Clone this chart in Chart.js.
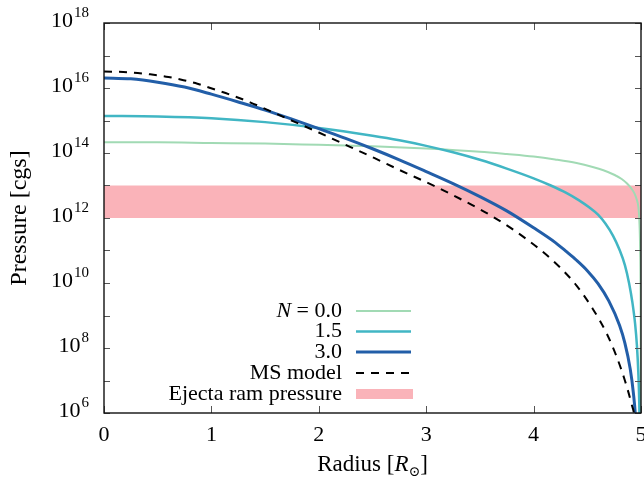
<!DOCTYPE html>
<html>
<head>
<meta charset="utf-8">
<script src="https://cdn.jsdelivr.net/npm/chart.js@4.4.0/dist/chart.umd.min.js"></script>
<style>
    html, body { margin: 0; padding: 0; background: #fff; }
</style>
</head>
<body>
<canvas id="pressureChart" width="644" height="478"></canvas>
<script>
// radius [R_sun] and pressure [cgs], one pair of arrays per curve
const rN0 = [0, 0.5, 1, 1.5, 2, 2.5, 3, 3.5, 3.75, 4, 4.2, 4.4, 4.55, 4.65, 4.75, 4.82, 4.87, 4.91, 4.94, 4.96,
    4.975, 4.985, 4.992, 4.997, 5.0];
const pN0 = [2.14e14, 2.14e14, 2.04e14, 1.95e14, 1.78e14, 1.62e14, 1.38e14, 1.1e14, 9.33e13, 7.76e13, 6.31e13,
    4.9e13, 3.72e13, 2.95e13, 2.14e13, 1.58e13, 1.15e13, 8.13e12, 5.62e12, 3.72e12, 2.24e12, 7.94e11, 1e11,
    1e9, 1e3];

const rN15 = [0, 0.5, 1, 1.5, 2, 2.5, 2.75, 3, 3.25, 3.5, 3.75, 4, 4.16, 4.3, 4.42, 4.52, 4.6, 4.67, 4.74, 4.8,
    4.85, 4.89, 4.92, 4.945, 4.962, 4.975, 4.984, 4.99, 4.995];
const pN15 = [1.38e15, 1.32e15, 1.17e15, 8.91e14, 5.89e14, 3.39e14, 2.45e14, 1.66e14, 1.05e14, 6.17e13, 3.31e13,
    1.66e13, 1.0e13, 6.03e12, 3.55e12, 2.09e12, 1.26e12, 6.61e11, 2.82e11, 1.05e11, 3.55e10, 9.55e9, 2.51e9,
    5.62e8, 1.2e8, 1.78e7, 2.0e6, 1e5, 1e3];

const rN3 = [0, 0.25, 0.5, 0.75, 1, 1.25, 1.5, 1.75, 2, 2.25, 2.5, 2.75, 3, 3.25, 3.5, 3.75, 4, 4.2, 4.3, 4.4,
    4.5, 4.6, 4.7, 4.8, 4.85, 4.9, 4.93, 4.95, 4.97];
const pN3 = [2.04e16, 1.91e16, 1.51e16, 1.07e16, 6.46e15, 3.72e15, 2.09e15, 1.1e15, 5.62e14, 2.82e14, 1.35e14,
    6.17e13, 2.69e13, 1.15e13, 4.57e12, 1.66e12, 5.01e11, 1.78e11, 9.55e10, 5.01e10, 2.4e10, 9.55e9, 2.82e9,
    5.01e8, 1.41e8, 2.24e7, 3.89e6, 6.46e5, 2.0e4];

const rMS = [0, 0.25, 0.43, 0.6, 0.74, 0.87, 0.99, 1.17, 1.36, 1.67, 2, 2.29, 2.52, 2.75, 3.08, 3.31, 3.5, 3.62,
    3.81, 4.06, 4.24, 4.4, 4.55, 4.68, 4.77, 4.85, 4.91, 4.94, 4.97];
const pMS = [3.24e16, 3.02e16, 2.63e16, 2.19e16, 1.74e16, 1.35e16, 1.0e16, 6.31e15, 3.63e15, 1.29e15, 4.27e14,
    1.55e14, 6.92e13, 3.02e13, 9.55e12, 3.98e12, 1.86e12, 1.1e12, 4.37e11, 1.07e11, 3.16e10, 8.32e9, 1.62e9,
    2.82e8, 5.75e7, 1.0e7, 2.0e6, 7.08e5, 3.16e4];

// ejecta ram pressure band
const bandX = [0, 5];
const bandLow = [1e12, 1e12];
const bandHigh = [1e13, 1e13];

const xTickLabels = ['0', '1', '2', '3', '4', '5'];
const yTickPowers = [6, 7, 8, 9, 10, 11, 12, 13, 14, 15, 16, 17, 18];
const yLabelPowers = [6, 8, 10, 12, 14, 16, 18];
const legendLabels = ['N = 0.0', '1.5', '3.0', 'MS model', 'Ejecta ram pressure'];

const serif = '"Liberation Serif", "DejaVu Serif", serif';

function toPoints(xs, ys) {
    return xs.map((x, i) => ({ x: x, y: ys[i] }));
}

function curve(label, xs, ys, color, width, order) {
    return {
        label: label,
        data: toPoints(xs, ys),
        borderColor: color,
        borderWidth: width,
        pointRadius: 0,
        fill: false,
        cubicInterpolationMode: 'monotone',
        order: order
    };
}

// frame, inward ticks, tick labels, axis titles and the key
const decorations = {
    id: 'decorations',
    afterDatasetsDraw(chart) {
        const ctx = chart.ctx, a = chart.chartArea;
        const xs = chart.scales.x, ys = chart.scales.y;
        ctx.save();
        ctx.strokeStyle = '#555';
        ctx.lineWidth = 1;
        ctx.beginPath();
        xs.ticks.forEach(t => {
            const px = Math.round(xs.getPixelForValue(t.value)) + 0.5;
            ctx.moveTo(px, a.bottom); ctx.lineTo(px, a.bottom - 7);
            ctx.moveTo(px, a.top); ctx.lineTo(px, a.top + 7);
        });
        ys.ticks.forEach(t => {
            const py = Math.round(ys.getPixelForValue(t.value)) + 0.5;
            ctx.moveTo(a.left, py); ctx.lineTo(a.left + 6, py);
            ctx.moveTo(a.right, py); ctx.lineTo(a.right - 6, py);
        });
        ctx.stroke();
        ctx.strokeStyle = '#111';
        ctx.lineWidth = 1.4;
        ctx.strokeRect(a.left, a.top, a.right - a.left, a.bottom - a.top);
        ctx.restore();
    },
    afterDraw(chart) {
        const ctx = chart.ctx, a = chart.chartArea;
        const xs = chart.scales.x, ys = chart.scales.y;
        ctx.save();
        ctx.fillStyle = '#000';

        // x tick labels
        ctx.font = '22px ' + serif;
        ctx.textAlign = 'center';
        ctx.textBaseline = 'alphabetic';
        xs.ticks.forEach((t, i) => {
            ctx.fillText(xTickLabels[i], xs.getPixelForValue(t.value), a.bottom + 28);
        });

        // y tick labels as 10 with a raised exponent
        yLabelPowers.forEach(p => {
            const py = ys.getPixelForValue(Math.pow(10, p));
            const sup = String(p);
            ctx.font = '15px ' + serif;
            const w = ctx.measureText(sup).width;
            ctx.textAlign = 'left';
            ctx.fillText(sup, 89 - w, py - 6);
            ctx.font = '22px ' + serif;
            ctx.textAlign = 'right';
            ctx.fillText('10', 88 - w, py + 4);
        });

        // x title: Radius [R_sun]
        const parts = [
            { t: 'Radius [', f: '23px ' + serif, dy: 0 },
            { t: 'R', f: 'italic 23px ' + serif, dy: 0 },
            { t: '\u2299', f: '14px ' + serif, dy: 5 },
            { t: ']', f: '23px ' + serif, dy: 0 }
        ];
        let total = 0;
        parts.forEach(p => { ctx.font = p.f; p.w = ctx.measureText(p.t).width; total += p.w; });
        let cx = (a.left + a.right) / 2 - total / 2;
        ctx.textAlign = 'left';
        parts.forEach(p => {
            ctx.font = p.f;
            ctx.fillText(p.t, cx, 471 + p.dy);
            cx += p.w;
        });

        // y title
        ctx.save();
        ctx.translate(26, (a.top + a.bottom) / 2);
        ctx.rotate(-Math.PI / 2);
        ctx.font = '24px ' + serif;
        ctx.textAlign = 'center';
        ctx.fillText('Pressure [cgs]', 0, 0);
        ctx.restore();

        // key: text right aligned, sample to its right
        const rowY = [311, 331.5, 352, 373, 394];
        const keyDs = [2, 3, 4, 5, 1];
        legendLabels.forEach((label, i) => {
            const y = rowY[i];
            const ds = chart.data.datasets[keyDs[i]];
            ctx.textAlign = 'right';
            ctx.font = '22px ' + serif;
            if (label.startsWith('N ')) {
                const rest = label.slice(1);
                ctx.fillText(rest, 342, y + 5.5);
                const rw = ctx.measureText(rest).width;
                ctx.font = 'italic 22px ' + serif;
                ctx.fillText('N', 342 - rw, y + 5.5);
            } else {
                ctx.fillText(label, 342, y + 5.5);
            }
            if (ds.fill) {
                ctx.fillStyle = ds.backgroundColor;
                ctx.fillRect(356, y - 5, 57, 10);
                ctx.fillStyle = '#000';
            } else {
                ctx.strokeStyle = ds.borderColor;
                ctx.lineWidth = ds.borderWidth;
                ctx.setLineDash(ds.borderDash || []);
                ctx.beginPath();
                ctx.moveTo(356, y);
                ctx.lineTo(411, y);
                ctx.stroke();
                ctx.setLineDash([]);
            }
        });
        ctx.restore();
    }
};

window.onload = function () {
    const ctx = document.getElementById('pressureChart').getContext('2d');
    window.pressureChart = new Chart(ctx, {
        type: 'line',
        data: {
            datasets: [
                {
                    label: 'band low', data: toPoints(bandX, bandLow),
                    borderWidth: 0, borderColor: 'rgba(0,0,0,0)', pointRadius: 0, fill: false, order: 10
                },
                {
                    label: 'Ejecta ram pressure', data: toPoints(bandX, bandHigh),
                    borderWidth: 0, borderColor: 'rgba(0,0,0,0)', pointRadius: 0,
                    backgroundColor: '#fab3b9', fill: '-1', order: 10
                },
                curve('N = 0.0', rN0, pN0, '#a1dab4', 2, 3),
                curve('1.5', rN15, pN15, '#41b6c4', 2.5, 2),
                curve('3.0', rN3, pN3, '#225ea8', 3, 1),
                Object.assign(curve('MS model', rMS, pMS, '#000', 2, 0), { borderDash: [8, 7] })
            ]
        },
        options: {
            responsive: false,
            animation: false,
            layout: { padding: { top: 23, right: 3, left: 0, bottom: 0 } },
            plugins: {
                legend: { display: false },
                tooltip: { enabled: false }
            },
            scales: {
                x: {
                    type: 'linear',
                    min: 0,
                    max: 5,
                    ticks: { stepSize: 1, display: false },
                    grid: { display: false, drawTicks: false },
                    border: { display: false },
                    afterFit: function (scale) { scale.height = 65; }
                },
                y: {
                    type: 'logarithmic',
                    min: 1e6,
                    max: 1e18,
                    ticks: { display: false },
                    grid: { display: false, drawTicks: false },
                    border: { display: false },
                    afterBuildTicks: function (scale) {
                        scale.ticks = yTickPowers.map(p => ({ value: Math.pow(10, p) }));
                    },
                    afterFit: function (scale) { scale.width = 104; }
                }
            }
        },
        plugins: [decorations]
    });
};
</script>
</body>
</html>
